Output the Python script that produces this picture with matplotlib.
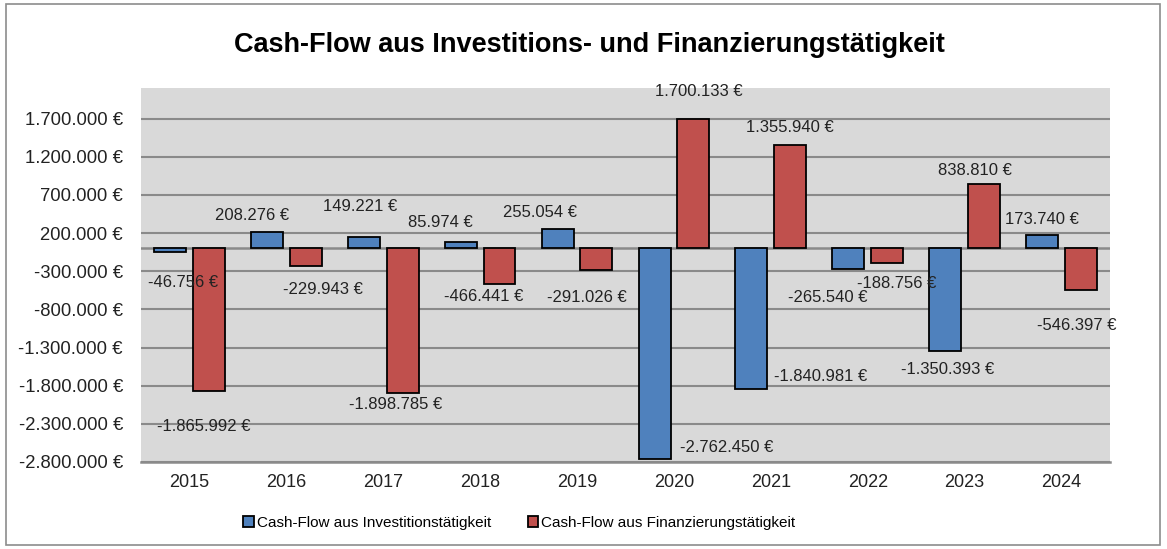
import matplotlib
matplotlib.use("Agg")
from matplotlib import pyplot as plt
from matplotlib.patches import Rectangle
import numpy as np

plt.rcParams["font.family"] = ["Liberation Sans", "DejaVu Sans"]

years = ["2015", "2016", "2017", "2018", "2019", "2020", "2021", "2022", "2023", "2024"]
investition = [-46756, 208276, 149221, 85974, 255054, -2762450, -1840981, -265540, -1350393, 173740]
finanzierung = [-1865992, -229943, -1898785, -466441, -291026, 1700133, 1355940, -188756, 838810, -546397]
y_ticks = [-2800000, -2300000, -1800000, -1300000, -800000, -300000, 200000, 700000, 1200000, 1700000]

# label nudges in pixels (dx, dy) relative to the bar end
inv_offsets = [(13, -31), (-15, 17), (-4, 30), (-20, 19), (-18, 16),
               (72, 12), (69, 12), (-21, -29), (2, -18), (0, 16)]
fin_offsets = [(-5, -36), (17, -24), (-7, -11), (-16, -13), (-10, -27),
               (6, 27), (0, 17), (10, -21), (-9, 14), (-4, -36)]


def euro(v):
    return f"{v:,.0f} €".replace(",", ".")


fig = plt.figure(figsize=(11.67, 5.49), dpi=100)
fig.patches.append(Rectangle((0.005, 0.007), 0.989, 0.985, transform=fig.transFigure,
                             fill=False, edgecolor="#8c8c8c", linewidth=1.2))
ax = fig.add_axes([0.1208, 0.1585, 0.8303, 0.6812])
ax.set_facecolor("#d9d9d9")

x = np.arange(len(years))
w = 0.33
b1 = ax.bar(x - 0.2, investition, w, color="#4f81bd", edgecolor="black", linewidth=1.3,
            label="Cash-Flow aus Investitionstätigkeit", zorder=3)
b2 = ax.bar(x + 0.2, finanzierung, w, color="#c0504d", edgecolor="black", linewidth=1.3,
            label="Cash-Flow aus Finanzierungstätigkeit", zorder=3)

for bars, vals, offs in [(b1, investition, inv_offsets), (b2, finanzierung, fin_offsets)]:
    for bar, v, (dx, dy) in zip(bars, vals, offs):
        ax.annotate(euro(v), (bar.get_x() + bar.get_width() / 2, v),
                    xytext=(dx, dy), textcoords="offset pixels",
                    ha="center", va="center", fontsize=12, color="#222222", zorder=4)

ax.set_ylim(-2800000, 2100000)
ax.set_xlim(-0.5, len(years) - 0.5)
ax.set_yticks(y_ticks)
ax.set_yticklabels([euro(v) for v in y_ticks], fontsize=13.3, color="#222222")
ax.set_xticks(x)
ax.set_xticklabels(years, fontsize=13, color="#222222")
ax.tick_params(axis="y", length=0, pad=13)
ax.tick_params(axis="x", length=0, pad=9)
ax.yaxis.grid(True, color="#8a8a8a", linewidth=1.5, zorder=1)
ax.axhline(0, color="#8a8a8a", linewidth=1.8, zorder=2)
for s in ["left", "right", "top"]:
    ax.spines[s].set_visible(False)
ax.spines["bottom"].set_color("#8a8a8a")
ax.spines["bottom"].set_linewidth(1.8)

fig.text(0.505, 0.918, "Cash-Flow aus Investitions- und Finanzierungstätigkeit",
         ha="center", va="center", fontsize=19.5, fontweight="bold")

fig.legend(loc="center", bbox_to_anchor=(0.445, 0.048), ncol=2, frameon=False,
           fontsize=11, handlelength=0.7, handleheight=0.7, handletextpad=0.2,
           columnspacing=2.4)

fig.savefig("out.png", dpi=100)
